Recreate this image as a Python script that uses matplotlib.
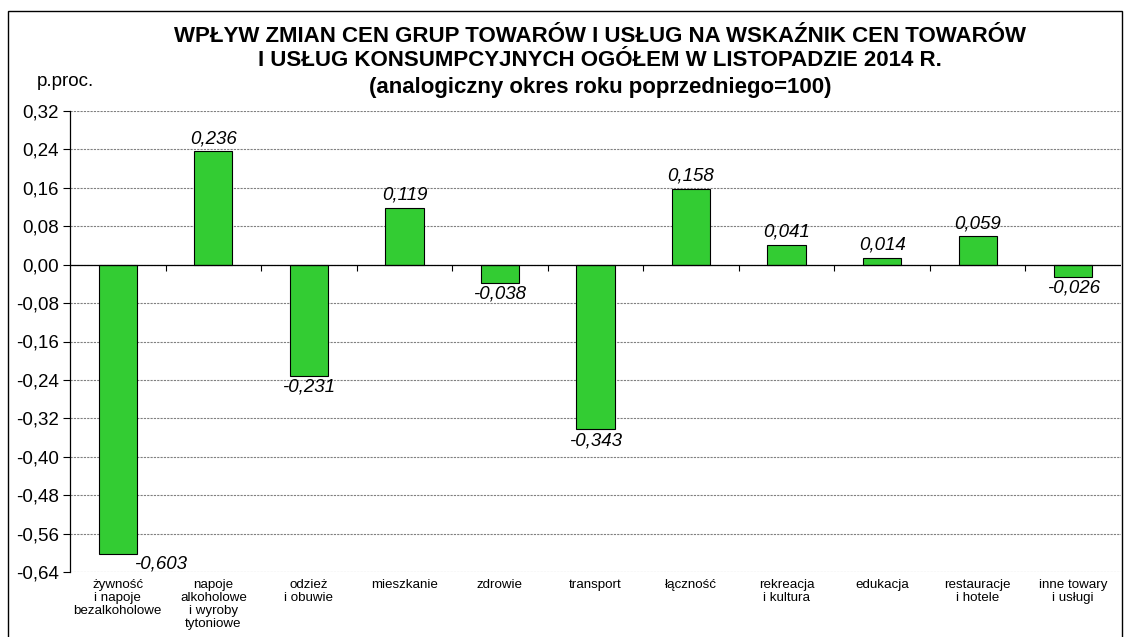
import matplotlib
matplotlib.use("Agg")
import matplotlib.pyplot as plt
from matplotlib.patches import Rectangle
import numpy as np

categories = ["żywność\ni napoje\nbezalkoholowe", "napoje\nalkoholowe\ni wyroby\ntytoniowe",
              "odzież\ni obuwie", "mieszkanie", "zdrowie", "transport", "łączność",
              "rekreacja\ni kultura", "edukacja", "restauracje\ni hotele", "inne towary\ni usługi"]
values = [-0.603, 0.236, -0.231, 0.119, -0.038, -0.343, 0.158, 0.041, 0.014, 0.059, -0.026]
yticks = [0.32, 0.24, 0.16, 0.08, 0.0, -0.08, -0.16, -0.24, -0.32, -0.40, -0.48, -0.56, -0.64]

plt.rcParams['font.family'] = ['Liberation Sans', 'DejaVu Sans']

W, H = 1129, 637
fig = plt.figure(figsize=(W/100, H/100), dpi=100)
ax = fig.add_axes([70/W, 1-572/H, (1121-70)/W, (572-111)/H])

x = np.arange(len(values))
ax.bar(x, values, width=0.4, color='#33CC33', edgecolor='black', linewidth=0.8, zorder=3)
ax.set_xlim(-0.5, len(values)-0.5)
ax.set_ylim(-0.64, 0.32)
ax.set_yticks(yticks)
ax.set_yticklabels([("%.2f" % v).replace('.', ',') for v in yticks], fontsize=13.5)
ax.tick_params(axis='y', length=5, width=0.8, direction='out', pad=3)
ax.yaxis.grid(True, color='#808080', linestyle=(0, (2, 1)), linewidth=0.8, zorder=0)
ax.axhline(0, color='black', linewidth=0.9, zorder=4)
for s in ['top', 'right', 'bottom']:
    ax.spines[s].set_visible(False)
ax.spines['left'].set_linewidth(0.9)

# category labels below plot area
ax.set_xticks([])
for i, c in enumerate(categories):
    ax.annotate(c, xy=(i, -0.64), xytext=(0, -5), textcoords='offset points',
                ha='center', va='top', fontsize=9.6, linespacing=1.1)
# small tick marks on zero line at category boundaries
for b in np.arange(0.5, len(values)-0.5, 1.0):
    ax.plot([b], [0], marker=3, markersize=4, color='black',
            markeredgewidth=0.8, zorder=4, clip_on=False)

# value labels
for i, v in enumerate(values):
    lab = ("%.3f" % v).replace('.', ',')
    if v >= 0:
        ax.annotate(lab, xy=(i, v), xytext=(0, 3), textcoords='offset points',
                    ha='center', va='bottom', fontsize=13.5, style='italic', zorder=5)
    elif v < -0.55:
        ax.annotate(lab, xy=(i, v), xytext=(31, -1), textcoords='offset points',
                    ha='center', va='top', fontsize=13.5, style='italic', zorder=5)
    else:
        ax.annotate(lab, xy=(i, v), xytext=(0, -2), textcoords='offset points',
                    ha='center', va='top', fontsize=13.5, style='italic', zorder=5)

fig.text(600/W, 1-37/H, "WPŁYW ZMIAN CEN GRUP TOWARÓW I USŁUG NA WSKAŹNIK CEN TOWARÓW",
         ha='center', va='center', fontsize=16, fontweight='bold')
fig.text(600/W, 1-61/H, "I USŁUG KONSUMPCYJNYCH OGÓŁEM W LISTOPADZIE 2014 R.",
         ha='center', va='center', fontsize=16, fontweight='bold')
fig.text(600/W, 1-88/H, "(analogiczny okres roku poprzedniego=100)",
         ha='center', va='center', fontsize=16, fontweight='bold')
fig.text(37/W, 1-82/H, "p.proc.", ha='left', va='center', fontsize=13.5)

fig.patches.append(Rectangle((8/W, -0.05), (1122-8)/W, 1.05-11/H, transform=fig.transFigure,
                             fill=False, edgecolor='black', linewidth=1.0))

fig.savefig("out.png", dpi=100)
